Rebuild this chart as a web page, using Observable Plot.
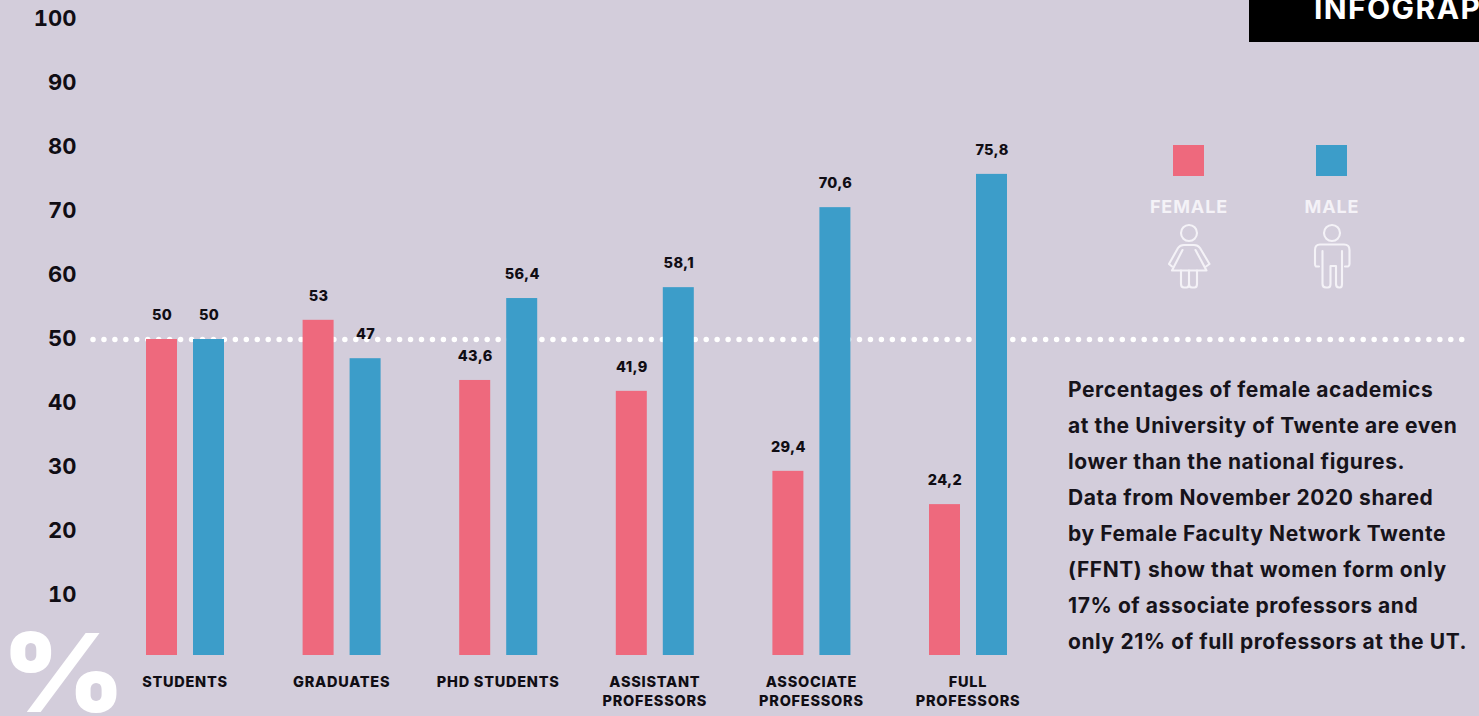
<!DOCTYPE html>
<html lang="en">
<head>
<meta charset="utf-8">
<title>Female and male academics</title>
<script src="https://cdn.jsdelivr.net/npm/d3@7"></script>
<script src="https://cdn.jsdelivr.net/npm/@observablehq/plot@0.6"></script>
<style>
  html, body { margin: 0; padding: 0; background: #d3cddb; overflow: hidden; }
  #page { position: relative; width: 1479px; height: 716px; overflow: hidden; font-family: Inter, sans-serif; }
  #page svg { position: absolute; left: 0; top: 0; }
  .banner { position: absolute; left: 1249px; top: 0; width: 230px; height: 42px; background: #000; overflow: hidden; }
  .banner span { position: absolute; left: 65px; top: -15px; color: #fff; font-size: 30px; line-height: 46px; font-weight: 700; white-space: nowrap; letter-spacing: 1.4px; }
  .percent { position: absolute; left: 2px; top: 629px; height: 86px; color: #fff; font-size: 109px; line-height: 86px; font-weight: 900; transform-origin: left center; transform: scaleX(1.08); }
  .note { position: absolute; left: 1068px; top: 372px; margin: 0; width: 411px; color: #16131a; font-size: 21px; line-height: 36px; font-weight: 700; white-space: pre; letter-spacing: 0.58px; }
  .swatch { position: absolute; top: 145px; width: 31px; height: 31px; }
  .key { position: absolute; top: 196px; width: 120px; text-align: center; color: #f4f2f7; font-size: 18px; line-height: 22px; font-weight: 700; letter-spacing: 0.9px; }
  .value-label text { letter-spacing: 0.35px; }
  .stage-label text { letter-spacing: 0.75px; }
</style>
</head>
<body>
<div id="page"></div>
<script>
// Share of women and men per academic career stage, in percent.
const stages = ["STUDENTS", "GRADUATES", "PHD STUDENTS", "ASSISTANT\nPROFESSORS", "ASSOCIATE\nPROFESSORS", "FULL\nPROFESSORS"];
const female = [50, 53, 43.6, 41.9, 29.4, 24.2];
const male = [50, 47, 56.4, 58.1, 70.6, 75.8];
const yTicks = [10, 20, 30, 40, 50, 60, 70, 80, 90, 100];
const parity = 50;
const noteLines = [
  "Percentages of female academics",
  "at the University of Twente are even",
  "lower than the national figures.",
  "Data from November 2020 shared",
  "by Female Faculty Network Twente",
  "(FFNT) show that women form only",
  "17% of associate professors and",
  "only 21% of full professors at the UT."
];

const PINK = "#ee697d";
const BLUE = "#3c9dc9";
const INK = "#100d14";

const decimalComma = (v) => String(v).replace(".", ",");
const femaleRows = stages.map((stage, i) => ({stage, value: female[i]}));
const maleRows = stages.map((stage, i) => ({stage, value: male[i]}));

// Paired bars sit either side of the band centre.
const step = 156.6;
const barWidth = 31;
const pairOffset = 23.5;
const insetsFor = (offset) => {
  const left = step / 2 + offset - barWidth / 2;
  return {insetLeft: left, insetRight: step - left - barWidth};
};
const baseline = 0.625;
const bars = (rows, fill, offset) =>
  Plot.barY(rows, {x: "stage", y1: baseline, y2: "value", fill, ...insetsFor(offset)});
const labels = (rows, offset) =>
  Plot.text(rows, {
    x: "stage", y: "value", text: (d) => decimalComma(d.value), className: "value-label",
    dx: offset, dy: -24, fontSize: 14.5, fontWeight: 800, fill: INK
  });

const chart = Plot.plot({
  width: 1479,
  height: 716,
  marginLeft: 93,
  marginRight: 17,
  marginTop: 19,
  marginBottom: 61,
  style: {background: "transparent", fontFamily: "Inter, sans-serif"},
  x: {type: "band", domain: stages, range: [106.7, 1046.3], padding: 0, round: false},
  y: {domain: [baseline, 100], range: [655, 19]},
  marks: [
    Plot.ruleY([parity], {
      stroke: "#fff", strokeWidth: 5.5, strokeLinecap: "round", strokeDasharray: "0 10.95"
    }),
    bars(femaleRows, PINK, -pairOffset),
    bars(maleRows, BLUE, pairOffset),
    labels(femaleRows, -pairOffset),
    labels(maleRows, pairOffset),
    Plot.axisY({
      ticks: yTicks, tickSize: 0, tickPadding: 17, label: null, dy: -1,
      fontSize: 22, fontWeight: 700, fill: INK
    }),
    Plot.axisX({
      tickSize: 0, tickPadding: 18, label: null, lineHeight: 1.3, lineAnchor: "top",
      fontSize: 14.5, fontWeight: 800, fill: INK, className: "stage-label", dx: -0.5
    })
  ]
});

const page = document.getElementById("page");
page.appendChild(chart);

// Outlined figures under the legend keys.
const icons = d3.create("svg:svg")
  .attr("width", 1479).attr("height", 716)
  .attr("fill", "none").attr("stroke", "#f4f2f7").attr("stroke-width", 2.1)
  .attr("stroke-linejoin", "round").attr("stroke-linecap", "round");
for (const cx of [1189, 1332]) icons.append("circle").attr("cx", cx).attr("cy", 233).attr("r", 8);
for (const d of [
  // female figure
  "M1172 266.5 L1169 264 L1178 248 Q1180 245 1184 245 L1194 245 Q1198 245 1200 248 L1209.5 264 L1206 266.5",
  "M1182.5 250 L1172 270.5 L1206.5 270.5 L1195.5 250",
  "M1181 270.5 V284 Q1181 287.5 1184 287.5 H1186.5 Q1189 287.5 1189 284 V270.5",
  "M1189 284 Q1189 287.5 1192 287.5 H1194.5 Q1197 287.5 1197 284 V270.5",
  // male figure
  "M1319 266.5 H1316 Q1315 266 1315 264 V250 Q1315 244.5 1320 244.5 H1344 Q1349.5 244.5 1349.5 250 V264 Q1349.5 266 1348 266.5 H1345",
  "M1322.5 251 V284 Q1322.5 287.5 1326 287.5 H1328 Q1330.5 287.5 1330.5 284 V266 H1336 V284 Q1336 287.5 1339 287.5 H1338.5 H1340 Q1342 287.5 1342 284 V251"
]) icons.append("path").attr("d", d);
page.appendChild(icons.node());

// Plain HTML pieces around the chart: banner, percent sign, legend keys, note.
const add = (cls, text, css = {}) => {
  const el = document.createElement("div");
  el.className = cls;
  if (text) el.textContent = text;
  Object.assign(el.style, css);
  page.appendChild(el);
  return el;
};
const banner = add("banner");
const bannerText = document.createElement("span");
bannerText.textContent = "INFOGRAPHIC";
banner.appendChild(bannerText);
add("percent", "%");
add("swatch", "", {left: "1173px", background: PINK});
add("swatch", "", {left: "1316px", background: BLUE});
add("key", "FEMALE", {left: "1129px"});
add("key", "MALE", {left: "1272px"});
add("note", noteLines.join("\n"));
</script>
</body>
</html>
